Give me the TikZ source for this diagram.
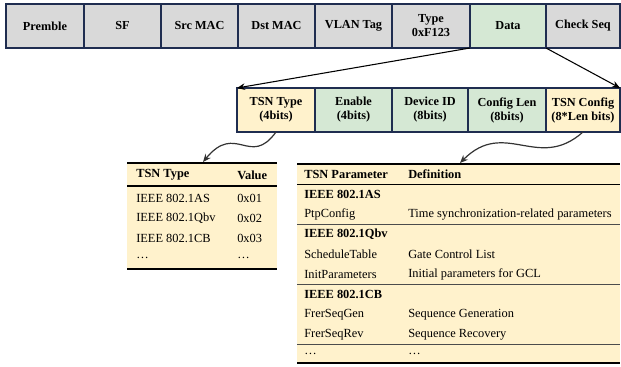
\documentclass[tikz,border=0pt]{standalone}
\usepackage{fontspec}
\setmainfont{Liberation Serif}
\usetikzlibrary{arrows.meta}
\definecolor{boxline}{HTML}{1F2D50}
\definecolor{grayfill}{HTML}{D9D9D9}
\definecolor{greenfill}{HTML}{D5E8D4}
\definecolor{yellowfill}{HTML}{FFF2CC}
\begin{document}
\begin{tikzpicture}[x=0.75pt,y=-0.75pt,
  fbox/.style={draw=boxline,line width=1.1pt,minimum height=33pt,inner sep=0pt,outer sep=0pt,
     align=center,font=\fontsize{9.2}{10.5}\selectfont\bfseries},
  gbox/.style={fbox,fill=grayfill},
  dbox/.style={fbox,fill=greenfill},
  ybox/.style={fbox,fill=yellowfill},
  arr/.style={-{Stealth[length=6pt,width=5pt]},line width=0.8pt,black},
  carr/.style={-{Stealth[length=6pt,width=5pt]},line width=0.9pt,black!80},
  cell/.style={anchor=west,inner sep=0pt,font=\fontsize{9.3}{10}\selectfont},
  hcell/.style={cell,font=\fontsize{9.3}{10}\selectfont\bfseries},
  thick rule/.style={line width=1.2pt,black},
  thin rule/.style={line width=0.5pt,black!70}]
\useasboundingbox (0,0) rectangle (621,367);
% top row
\node[gbox,minimum width=58.5pt] (pre) at (45,26) {Premble};
\node[gbox,minimum width=57.75pt] (sf) at (122.5,26) {SF};
\node[gbox,minimum width=57.75pt] (src) at (199.5,26) {Src MAC};
\node[gbox,minimum width=57.75pt] (dst) at (276.5,26) {Dst MAC};
\node[gbox,minimum width=57.75pt] (vlan) at (353.5,26) {VLAN Tag};
\node[gbox,minimum width=58.5pt] (type) at (431,26) {Type\\0xF123};
\node[dbox,minimum width=57pt] (data) at (508,26) {Data};
\node[gbox,minimum width=55.5pt] (chk) at (583,26) {Check Seq};
% second row
\node[ybox,minimum width=58.5pt] (tt) at (276,110) {TSN Type\\(4bits)};
\node[dbox,minimum width=57.75pt] (en) at (353.5,110) {Enable\\(4bits)};
\node[dbox,minimum width=57pt] (dev) at (430,110) {Device ID\\(8bits)};
\node[dbox,minimum width=58.5pt] (cl) at (507,110) {Config Len\\(8bits)};
\node[ybox,minimum width=55.5pt] (tc) at (583,110) {TSN Config\\(8*Len bits)};
% expansion arrows
\draw[arr] (data.south west) -- (tt.north west);
\draw[arr] (data.south east) -- (tc.north east);
% left table
\fill[yellowfill] (127,163) rectangle (277,269);
\draw[thick rule] (127,163) -- (277,163);
\draw[thick rule] (127,186) -- (277,186);
\draw[thick rule] (127,269) -- (277,269);
\node[hcell] (lh1) at (136,175) {TSN Type};
\node[hcell] (lh2) at (237,175) {Value};
\node[cell] (la1) at (136,198) {IEEE 802.1AS};
\node[cell] (la2) at (237,198) {0x01};
\node[cell] (lb1) at (136,218) {IEEE 802.1Qbv};
\node[cell] (lb2) at (237,218) {0x02};
\node[cell] (lc1) at (136,238) {IEEE 802.1CB};
\node[cell] (lc2) at (237,238) {0x03};
\node[cell] (ld1) at (136,258) {\dots};
\node[cell] (ld2) at (237,258) {\dots};
\coordinate (ltop) at (203,162);
% right table
\fill[yellowfill] (297,164) rectangle (620,363);
\draw[thick rule] (297,164) -- (620,164);
\draw[thick rule] (297,184.5) -- (620,184.5);
\draw[thin rule] (297,224.5) -- (620,224.5);
\draw[thin rule] (297,284.5) -- (620,284.5);
\draw[thin rule] (297,344.5) -- (620,344.5);
\draw[thick rule] (297,363) -- (620,363);
\node[hcell] (rh1) at (304,174.5) {TSN Parameter};
\node[hcell] (rh2) at (408,174.5) {Definition};
\node[hcell] (ra0) at (304,194.5) {IEEE 802.1AS};
\node[cell] (ra1) at (304,214.5) {PtpConfig};
\node[cell] (ra2) at (408,214.5) {Time synchronization-related parameters};
\node[hcell] (rb0) at (304,234.5) {IEEE 802.1Qbv};
\node[cell] (rb1) at (304,254.5) {ScheduleTable};
\node[cell] (rb2) at (408,254.5) {Gate Control List};
\node[cell] (rc1) at (304,274.5) {InitParameters};
\node[cell] (rc2) at (408,274.5) {Initial parameters for GCL};
\node[hcell] (rd0) at (304,294.5) {IEEE 802.1CB};
\node[cell] (rd1) at (304,314.5) {FrerSeqGen};
\node[cell] (rd2) at (408,314.5) {Sequence Generation};
\node[cell] (re1) at (304,334.5) {FrerSeqRev};
\node[cell] (re2) at (408,334.5) {Sequence Recovery};
\node[cell] (rf1) at (304,354) {\dots};
\node[cell] (rf2) at (408,354) {\dots};
\coordinate (rtop) at (460,163);
% curvy arrows
\draw[carr] (tt.south) .. controls (250,168) and (236,122) .. (ltop);
\draw[carr] (tc.south) .. controls (538,172) and (505,118) .. (rtop);
\end{tikzpicture}
\end{document}
